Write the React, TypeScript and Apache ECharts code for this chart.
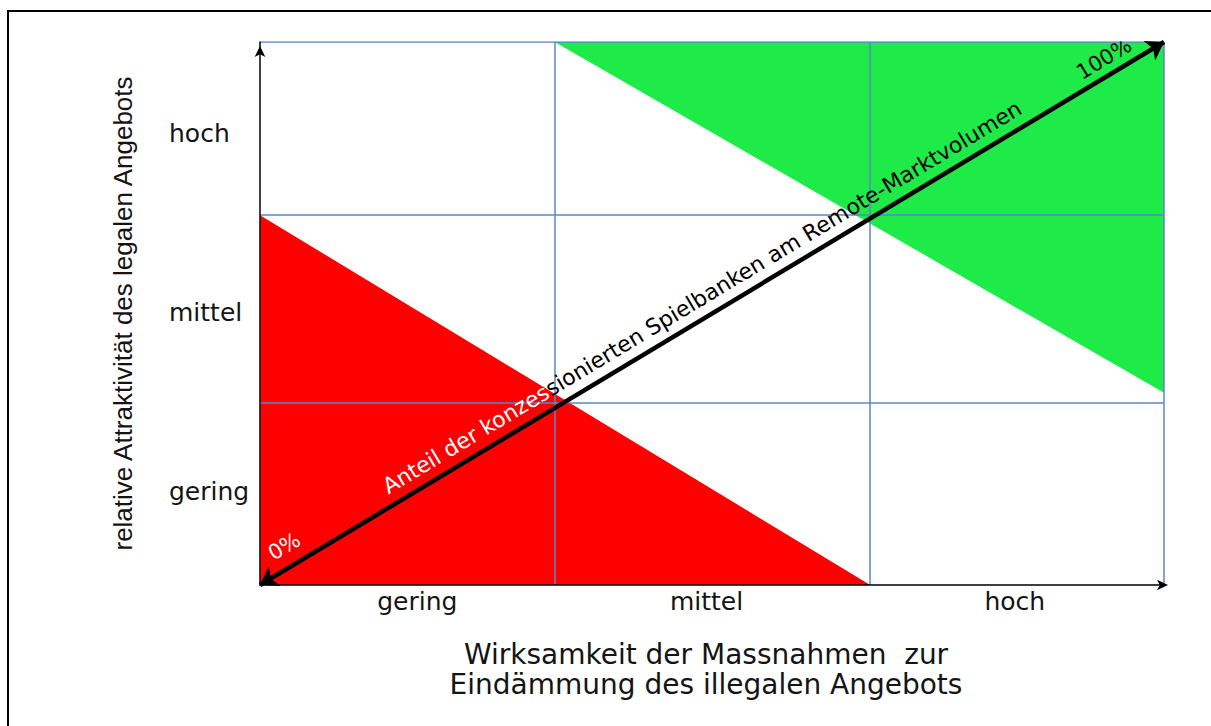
import React, { useEffect, useRef } from 'react';
import * as echarts from 'echarts';

// ---- data (axis units: 0..100 on both axes) ----
const xBounds = [0, 32.6, 67.5, 100];
const yBounds = [0, 33.5, 68.1, 100];
const xTickPositions = [17.4, 49.4, 83.5];
const xTickLabels = ['gering', 'mittel', 'hoch'];
const yTickPositions = [17.3, 50.1, 83.1];
const yTickLabels = ['gering', 'mittel', 'hoch'];
const redTriangle = [[0, 68.1], [0, 0], [67.5, 0]];
const greenTriangle = [[32.6, 100], [100, 100], [100, 35.4]];
const arrowFrom = [0, 0];
const arrowTo = [100, 100];
const xTitle = 'Wirksamkeit der Massnahmen  zur\nEindämmung des illegalen Angebots';
const yTitle = 'relative Attraktivität des legalen Angebots';
const arrowLabelLight = 'Anteil der konzes';
const arrowLabelDark = 'sionierten Spielbanken am Remote-Marktvolumen';
const startLabel = '0%';
const endLabel = '100%';

const SANS = 'DejaVu Sans';
const ARIAL = 'Liberation Sans';
const TEXT = '#141414';
const BLUE = '#5B87C6';

function triangleSeries(tri: number[][], fill: string) {
  return {
    type: 'custom',
    coordinateSystem: 'cartesian2d',
    z: 1,
    silent: true,
    clip: false,
    data: tri,
    renderItem: (params: any, api: any) => {
      if (params.dataIndex !== 0) return null;
      return {
        type: 'polygon',
        shape: { points: tri.map((p) => api.coord(p)) },
        style: { fill },
      };
    },
  };
}

function endLabelSeries(text: string, position: string, distance: number[], color: string) {
  return {
    type: 'lines',
    coordinateSystem: 'cartesian2d',
    z: 6,
    silent: true,
    symbol: ['none', 'none'],
    lineStyle: { color: 'rgba(0,0,0,0)', width: 1, opacity: 1 },
    label: {
      show: true,
      position,
      distance,
      formatter: text,
      color,
      opacity: 1,
      fontFamily: SANS,
      fontSize: 21,
    },
    data: [{ coords: [arrowFrom, arrowTo] }],
  };
}

export default function App() {
  const ref = useRef<HTMLDivElement>(null);
  useEffect(() => {
    if (!ref.current) return;
    const chart = echarts.init(ref.current, null, { renderer: 'svg' });
    const gridLines = [
      ...xBounds.slice(1).map((x) => ({ coords: [[x, yBounds[0]], [x, yBounds[3]]] })),
      ...yBounds.slice(1).map((y) => ({ coords: [[xBounds[0], y], [xBounds[3], y]] })),
    ];
    chart.setOption({
      animation: false,
      grid: { left: 260, top: 42, right: 47, bottom: 141, containLabel: false, outerBoundsMode: 'none' },
      graphic: [
        {
          type: 'rect',
          z: -10,
          silent: true,
          shape: { x: 8, y: 11, width: 1400, height: 900 },
          style: { fill: 'none', stroke: '#000', lineWidth: 2 },
        },
      ],
      xAxis: {
        type: 'value',
        min: 0,
        max: 100,
        z: 10,
        axisLine: {
          show: true,
          onZero: false,
          lineStyle: { color: '#000', width: 1.5 },
          symbol: ['none', 'arrow'],
          symbolSize: [8, 11],
          symbolOffset: [0, 4],
        },
        axisTick: { show: false },
        splitLine: { show: false },
        axisLabel: {
          customValues: xTickPositions,
          formatter: (v: number) => xTickLabels[xTickPositions.indexOf(v)] ?? '',
          margin: 4,
          fontFamily: SANS,
          fontSize: 25,
          color: TEXT,
        },
        name: xTitle,
        nameLocation: 'middle',
        nameGap: 54,
        nameTextStyle: { fontFamily: SANS, fontSize: 28, lineHeight: 30, color: TEXT, padding: [0, 12, 0, 0] },
      },
      yAxis: {
        type: 'value',
        min: 0,
        max: 100,
        z: 10,
        axisLine: {
          show: true,
          onZero: false,
          lineStyle: { color: '#000', width: 1.5 },
          symbol: ['none', 'arrow'],
          symbolSize: [8, 11],
          symbolOffset: [0, -4],
        },
        axisTick: { show: false },
        splitLine: { show: false },
        axisLabel: {
          customValues: yTickPositions,
          formatter: (v: number) => yTickLabels[yTickPositions.indexOf(v)] ?? '',
          margin: 91,
          align: 'left',
          fontFamily: SANS,
          fontSize: 25,
          color: TEXT,
        },
        name: yTitle,
        nameLocation: 'middle',
        nameRotate: 90,
        nameGap: 124,
        nameTextStyle: { fontFamily: ARIAL, fontSize: 26, color: TEXT },
      },
      series: [
        triangleSeries(redTriangle, '#FF0000'),
        triangleSeries(greenTriangle, '#1EEB48'),
        {
          type: 'lines',
          coordinateSystem: 'cartesian2d',
          z: 3,
          silent: true,
          symbol: ['none', 'none'],
          lineStyle: { color: BLUE, width: 1.5, opacity: 1 },
          data: gridLines,
        },
        {
          type: 'lines',
          coordinateSystem: 'cartesian2d',
          z: 5,
          silent: true,
          symbol: ['arrow', 'arrow'],
          symbolSize: 17,
          lineStyle: { color: '#000', width: 4.5, opacity: 1 },
          label: {
            show: true,
            position: 'insideMiddleTop',
            distance: [0, 8],
            formatter: `{w|${arrowLabelLight}}{b|${arrowLabelDark}}`,
            rich: {
              w: { color: '#ffffff', fontFamily: SANS, fontSize: 22 },
              b: { color: '#000000', fontFamily: SANS, fontSize: 22 },
            },
          },
          data: [{ coords: [arrowFrom, arrowTo] }],
        },
        endLabelSeries(startLabel, 'insideStartTop', [24, 10], '#ffffff'),
        endLabelSeries(endLabel, 'insideEndTop', [30, 6], '#000000'),
      ],
    });
    return () => chart.dispose();
  }, []);
  return (
    <div
      ref={ref}
      style={{ position: 'absolute', left: 0, top: 0, width: 1211, height: 726, background: '#fff' }}
    />
  );
}
